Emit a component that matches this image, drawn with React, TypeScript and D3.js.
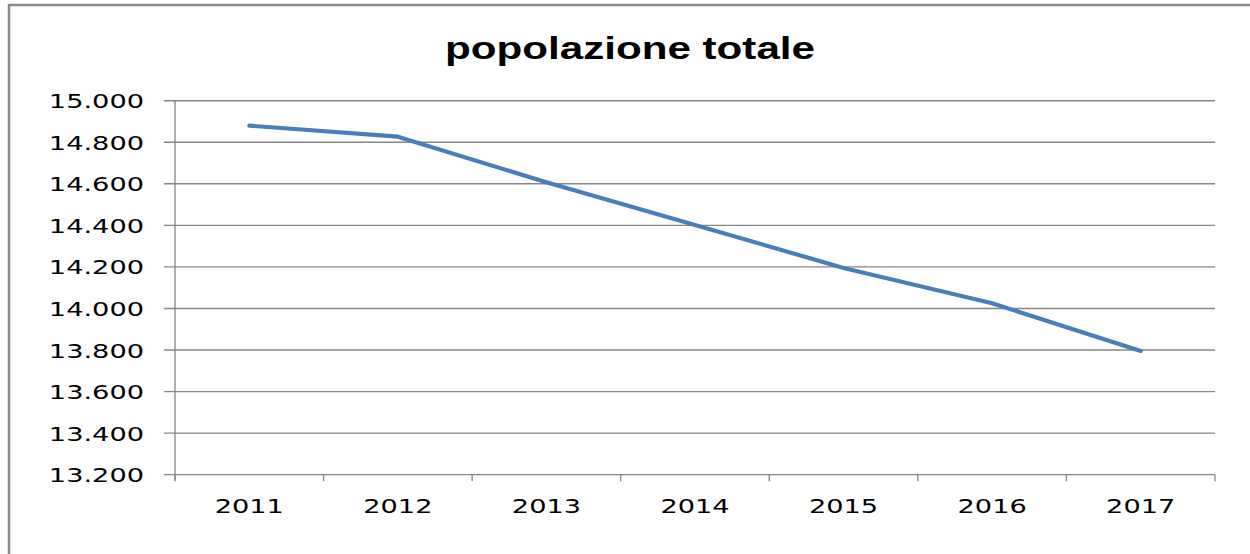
import React, { useEffect, useRef } from 'react';
import * as d3 from 'd3';

const years = ['2011', '2012', '2013', '2014', '2015', '2016', '2017'];
const popolazione = [14880, 14827, 14607, 14402, 14195, 14025, 13795];
const yTicks = [13200, 13400, 13600, 13800, 14000, 14200, 14400, 14600, 14800, 15000];

const W = 1250;
const H = 554;

const App: React.FC = () => {
  const svgRef = useRef<SVGSVGElement>(null);

  useEffect(() => {
    if (!svgRef.current) return;
    const svg = d3.select(svgRef.current);
    svg.selectAll('*').remove();

    const left = 175, right = 1215, top = 100.7, bottom = 474.7;
    const stretch = 1.36; // the original is drawn wide
    const gridColor = '#868686';

    const x = d3.scaleBand<string>().domain(years).range([left, right]);
    const y = d3.scaleLinear().domain([13200, 15000]).range([bottom, top]);
    const fmt = (v: number) => d3.format(',')(v).replace(/,/g, '.');

    // outer frame (cut at right and bottom)
    svg.append('rect').attr('x', 9).attr('y', 5).attr('width', 1400).attr('height', 700)
      .attr('fill', 'white').attr('stroke', '#8a8a8a').attr('stroke-width', 2.5);

    // title
    svg.append('text').attr('x', 630).attr('y', 59).attr('text-anchor', 'middle')
      .attr('font-family', 'Liberation Sans, Arial, sans-serif').attr('font-weight', 'bold')
      .attr('font-size', 31).attr('fill', '#000')
      .attr('textLength', 370).attr('lengthAdjust', 'spacingAndGlyphs')
      .text('popolazione totale');

    const g = svg.append('g');

    // gridlines + left ticks
    yTicks.forEach(t => {
      g.append('line').attr('x1', 164).attr('x2', right).attr('y1', y(t)).attr('y2', y(t))
        .attr('stroke', gridColor).attr('stroke-width', t === 13200 ? 1.3 : 1.4);
      g.append('text')
        .attr('transform', `translate(144,${y(t) + 7.5}) scale(${stretch},1)`)
        .attr('text-anchor', 'end').attr('font-family', 'DejaVu Sans, Verdana, sans-serif')
        .attr('font-size', 20).attr('fill', '#000').text(fmt(t));
    });

    // y axis line
    g.append('line').attr('x1', left).attr('x2', left).attr('y1', top).attr('y2', bottom + 6)
      .attr('stroke', gridColor).attr('stroke-width', 1.3);

    // x ticks between categories
    const bounds = years.map(d => x(d) as number).concat([right]);
    bounds.forEach(b => {
      g.append('line').attr('x1', b).attr('x2', b).attr('y1', bottom).attr('y2', bottom + 6.5)
        .attr('stroke', gridColor).attr('stroke-width', 1.3);
    });

    years.forEach(d => {
      g.append('text')
        .attr('transform', `translate(${(x(d) as number) + x.bandwidth() / 2},513) scale(${stretch},1)`)
        .attr('text-anchor', 'middle').attr('font-family', 'DejaVu Sans, Verdana, sans-serif')
        .attr('font-size', 20).attr('fill', '#000').text(d);
    });

    // series
    const line = d3.line<number>()
      .x((_, i) => (x(years[i]) as number) + x.bandwidth() / 2)
      .y(v => y(v));
    g.append('path').datum(popolazione).attr('d', line)
      .attr('fill', 'none').attr('stroke', '#4a7ebb').attr('stroke-width', 4.2)
      .attr('stroke-linejoin', 'round').attr('stroke-linecap', 'round');
  }, []);

  return (
    <svg ref={svgRef} width={W} height={H}
      style={{ position: 'absolute', left: 0, top: 0, background: '#fff' }} />
  );
};

export default App;
